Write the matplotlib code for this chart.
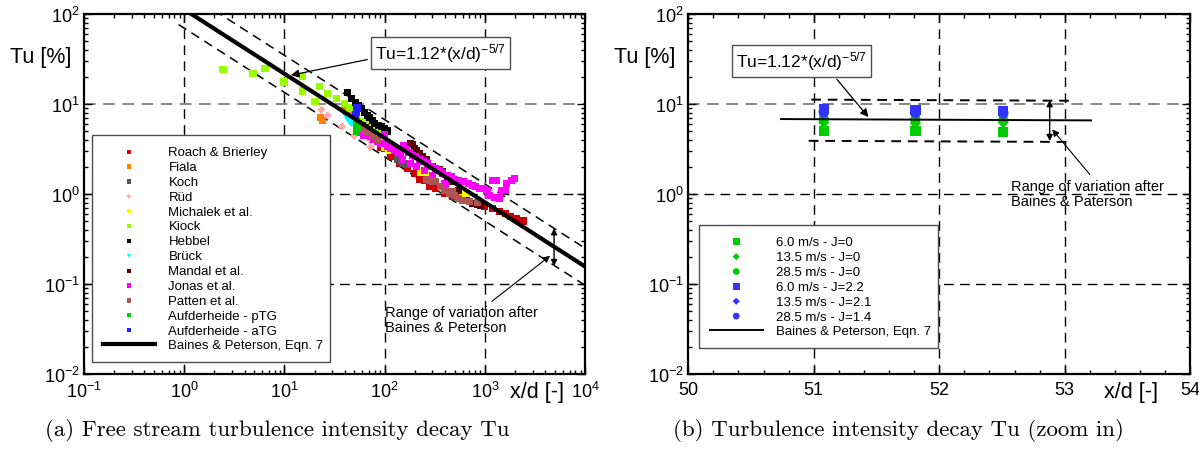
import numpy as np
import matplotlib
matplotlib.use('Agg')
import matplotlib.pyplot as plt
from matplotlib import font_manager
from matplotlib.ticker import LogLocator, MultipleLocator, NullFormatter

names = {f.name for f in font_manager.fontManager.ttflist}
sans = 'Liberation Sans Narrow' if 'Liberation Sans Narrow' in names else 'Liberation Sans'
plt.rcParams['font.family'] = [sans, 'Liberation Sans', 'DejaVu Sans']
plt.rcParams['mathtext.fontset'] = 'custom'
plt.rcParams['mathtext.rm'] = 'Liberation Sans'
plt.rcParams['mathtext.it'] = 'Liberation Sans'
plt.rcParams['mathtext.bf'] = 'Liberation Sans'

# --- data, panel (a) ---
roach_x = [90, 100, 115, 140, 170, 200, 225, 250, 280, 320, 400, 480, 580, 700, 850, 1000, 1200, 1400, 1600, 1800, 2080, 2400]
roach_y = [3.3, 3.2, 2.6, 2.2, 1.9, 1.7, 1.45, 1.4, 1.2, 1.16, 1.0, 0.93, 0.9, 0.82, 0.76, 0.73, 0.68, 0.63, 0.6, 0.56, 0.53, 0.5]
fiala_x = [23, 24, 40, 42, 44]
fiala_y = [7.0, 6.6, 8.8, 8.2, 7.8]
koch_x = [55, 65, 75, 135, 145, 155, 165]
koch_y = [5.5, 4.9, 4.5, 2.4, 2.3, 2.2, 2.1]
rued_x = [23.4, 27, 37.5, 49.7, 72, 72, 80]
rued_y = [8.6, 7.4, 5.6, 4.4, 3.3, 3.9, 4.5]
michalek_x = [65, 72, 80, 90, 100, 110, 230, 260, 600, 650]
michalek_y = [5.0, 4.6, 4.1, 3.7, 3.3, 3.0, 1.75, 1.6, 0.95, 0.9]
kiock_x = [2.44, 4.86, 6.4, 9.9, 15, 15, 22.6, 20.2, 27, 33, 39.4, 45, 52, 60, 70, 80, 90]
kiock_y = [23.9, 21.5, 25, 17.5, 20, 13.9, 15.6, 10.5, 13, 11.6, 10, 9.0, 8.0, 6.3, 5.9, 5.6, 5.3]
hebbel_x = [43, 47, 51, 55, 59, 63, 67, 71, 75, 80, 87, 93, 100, 106]
hebbel_y = [13.4, 11.5, 10.3, 9.5, 8.8, 8.0, 7.4, 7.0, 6.5, 6.1, 5.8, 5.6, 5.3, 5.0]
brueck_x = [41, 43, 45, 47]
brueck_y = [7.2, 6.6, 6.2, 6.0]
mandal_x = [60, 65, 70, 180, 190, 200, 210, 220, 240, 260, 300, 350, 380, 420, 480, 550, 660, 760, 850, 900]
mandal_y = [5.8, 5.5, 5.2, 3.6, 3.5, 3.2, 3.0, 2.8, 2.6, 2.4, 2.0, 1.85, 1.75, 1.5, 1.36, 1.1, 0.84, 0.78, 0.76, 0.74]
jonas_x = [58, 62, 67, 72, 78, 85, 92, 100, 107, 115, 125, 135, 145, 155, 165, 175, 190, 205, 225, 245, 265, 290,
           320, 350, 380, 420, 460, 500, 550, 610, 680, 750, 800, 880, 960, 1050, 1180, 1300, 1480, 1650, 1860, 1990,
           1100, 1250, 1400, 1600, 150, 180, 210, 250, 300, 400]
jonas_y = [4.8, 4.5, 4.6, 4.3, 4.0, 3.8, 3.6, 4.6, 3.4, 3.2, 3.0, 2.9, 2.8, 3.4, 3.1, 2.9, 2.7, 2.6, 2.4, 2.3, 2.2, 2.0,
           1.9, 1.8, 1.7, 1.6, 1.55, 1.45, 1.4, 1.36, 1.3, 1.25, 1.2, 1.15, 1.14, 1.1, 1.4, 1.4, 1.08, 1.3, 1.4, 1.47,
           0.95, 0.92, 0.9, 1.1, 2.4, 2.2, 2.0, 1.8, 1.6, 1.3]
patten_x = [55, 61, 66, 76, 85, 260, 280, 300, 320, 360, 400, 440, 470, 500, 540, 600, 700, 850]
patten_y = [6.0, 5.3, 5.0, 4.4, 4.0, 1.45, 1.4, 1.36, 1.38, 1.2, 1.1, 1.0, 1.05, 0.95, 0.88, 0.85, 0.82, 0.8]
ptg_x = [52, 52, 52, 52, 54, 54]
ptg_y = [5.0, 5.5, 6.0, 6.5, 5.3, 5.9]
atg_x = [51, 52, 53, 52]
atg_y = [7.6, 8.3, 9.0, 8.0]

series_a = [
    ('Roach & Brierley', roach_x, roach_y, 's', '#cc0000'),
    ('Fiala', fiala_x, fiala_y, 's', '#ff7f00'),
    ('Koch', koch_x, koch_y, 's', '#555555'),
    ('Rüd', rued_x, rued_y, 'D', '#ffaaaa'),
    ('Michalek et al.', michalek_x, michalek_y, 's', '#ffff00'),
    ('Kiock', kiock_x, kiock_y, 's', '#99ff00'),
    ('Hebbel', hebbel_x, hebbel_y, 's', '#000000'),
    ('Brück', brueck_x, brueck_y, 'v', '#00ffff'),
    ('Mandal et al.', mandal_x, mandal_y, 's', '#5a0000'),
    ('Jonas et al.', jonas_x, jonas_y, 's', '#ff00ff'),
    ('Patten et al.', patten_x, patten_y, 's', '#b05555'),
    ('Aufderheide - pTG', ptg_x, ptg_y, 's', '#00cc00'),
    ('Aufderheide - aTG', atg_x, atg_y, 's', '#2222ff'),
]

# --- data, panel (b) ---
xb = [51.08, 51.81, 52.51]
b_sq_j0 = [5.0, 5.0, 4.9]
b_di_j0 = [6.2, 6.1, 6.2]
b_ci_j0 = [6.8, 6.7, 6.6]
b_sq_j2 = [8.7, 8.6, 8.4]
b_di_j2 = [8.3, 8.2, 8.1]
b_ci_j1 = [8.0, 7.9, 7.8]

series_b = [
    ('6.0 m/s - J=0', b_sq_j0, 's', '#00cc00'),
    ('13.5 m/s - J=0', b_di_j0, 'D', '#00cc00'),
    ('28.5 m/s - J=0', b_ci_j0, 'o', '#00cc00'),
    ('6.0 m/s - J=2.2', b_sq_j2, 's', '#3333ff'),
    ('13.5 m/s - J=2.1', b_di_j2, 'D', '#3333ff'),
    ('28.5 m/s - J=1.4', b_ci_j1, 'o', '#3333ff'),
]

# Baines & Peterson correlation and its band
coef, expo = 112.0, -5.0 / 7.0
band_a = (1.6, 0.62)
band_b = (1.65, 0.575)
fit_a_x = np.logspace(0, 4, 200)
upper_a_x = np.logspace(np.log10(2.0), 4, 200)
lower_a_x = np.logspace(np.log10(0.88), 4, 200)
fit_b_x = [50.74, 53.21]
upper_b_x = [50.98, 53.05]
lower_b_x = [50.96, 53.03]

fig = plt.figure(figsize=(11.99, 4.64), dpi=100)
axa = fig.add_axes([0.070, 0.192, 0.418, 0.776])
axb = fig.add_axes([0.574, 0.192, 0.4187, 0.776])

dash = (0, (7, 4.5))
tick_fs = 13
leg_fs = 9.5
txt_fs = 10.5


def style_axes(ax):
    for s in ax.spines.values():
        s.set_linewidth(1.6)
    ax.tick_params(which='both', direction='in', top=True, right=True, width=1.0)
    ax.tick_params(which='major', length=6, labelsize=tick_fs)
    ax.tick_params(which='minor', length=3)
    ax.tick_params(axis='x', pad=5)
    ax.tick_params(axis='y', pad=3)
    ax.set_yscale('log')
    ax.set_ylim(1e-2, 1e2)
    ax.yaxis.set_major_locator(LogLocator(base=10, numticks=10))
    ax.yaxis.set_minor_locator(LogLocator(base=10, subs=np.arange(2, 10), numticks=10))
    ax.yaxis.set_minor_formatter(NullFormatter())


def draw_grid(ax, xs):
    for xv in xs:
        ax.axvline(xv, color='k', lw=1.0, ls=dash, zorder=1)
    ax.axhline(10, color='0.45', lw=1.2, ls=dash, zorder=1)
    ax.axhline(1, color='k', lw=1.0, ls=dash, zorder=1)
    ax.axhline(0.1, color='k', lw=1.0, ls=dash, zorder=1)


# ---------- panel (a) ----------
style_axes(axa)
axa.set_xscale('log')
axa.set_xlim(1e-1, 1e4)
axa.xaxis.set_major_locator(LogLocator(base=10, numticks=10))
axa.xaxis.set_minor_locator(LogLocator(base=10, subs=np.arange(2, 10), numticks=10))
axa.xaxis.set_minor_formatter(NullFormatter())
draw_grid(axa, [1, 10, 100, 1000])

fit_a = coef * fit_a_x ** expo
axa.plot(upper_a_x, band_a[0] * coef * upper_a_x ** expo, color='k', lw=1.1, ls=(0, (6, 4)), zorder=2)
axa.plot(lower_a_x, band_a[1] * coef * lower_a_x ** expo, color='k', lw=1.1, ls=(0, (6, 4)), zorder=2)

for label, xs, ys, m, c in series_a:
    ms = 26 if m != 'D' else 18
    axa.scatter(xs, ys, s=ms, marker=m, color=c, edgecolors='none', label=label, zorder=3)
axa.plot(fit_a_x, fit_a, color='k', lw=3.0, label='Baines & Peterson, Eqn. 7', zorder=4)

leg = axa.legend(loc='lower left', bbox_to_anchor=(0.016, 0.033, 0.475, 0.656), mode='expand',
                 fontsize=leg_fs, frameon=True, fancybox=False, framealpha=1, edgecolor='0.3',
                 handlelength=4.0, handletextpad=1.0, labelspacing=0.2, borderpad=0.8,
                 markerscale=0.6, borderaxespad=0)
leg.get_frame().set_linewidth(1.0)
leg.set_zorder(6)

axa.annotate('Tu=1.12*(x/d)$^{-5/7}$', xy=(10.9, 20.5), xytext=(80, 37), ha='left', va='center',
             fontsize=12.5, zorder=7,
             bbox=dict(boxstyle='square,pad=0.25', fc='white', ec='0.3', lw=1.0),
             arrowprops=dict(arrowstyle='-|>', color='k', lw=0.9, mutation_scale=12, relpos=(0, 0.27)))
axa.annotate('', xy=(4900, 0.415), xytext=(4900, 0.158),
             arrowprops=dict(arrowstyle='<|-|>', color='k', lw=1.0, mutation_scale=9, shrinkA=0, shrinkB=0))
axa.annotate('', xy=(4470, 0.205), xytext=(1175, 0.064),
             arrowprops=dict(arrowstyle='-|>', color='k', lw=0.8, mutation_scale=10, shrinkA=0, shrinkB=0))
axa.text(101, 0.058, 'Range of variation after\nBaines & Peterson', ha='left', va='top',
         fontsize=txt_fs, linespacing=1.05)

# ---------- panel (b) ----------
style_axes(axb)
axb.set_xlim(50, 54)
axb.xaxis.set_major_locator(MultipleLocator(1))
axb.xaxis.set_minor_locator(MultipleLocator(0.2))
draw_grid(axb, [51, 52, 53])

axb.plot(upper_b_x, [band_b[0] * coef * v ** expo for v in upper_b_x], color='k', lw=1.4, ls=(0, (5, 3.5)), zorder=2)
axb.plot(lower_b_x, [band_b[1] * coef * v ** expo for v in lower_b_x], color='k', lw=1.4, ls=(0, (5, 3.5)), zorder=2)

for label, ys, m, c in series_b:
    ms = 55 if m != 'D' else 32
    axb.scatter(xb, ys, s=ms, marker=m, color=c, edgecolors='none', label=label, zorder=3)
axb.plot(fit_b_x, [coef * v ** expo for v in fit_b_x], color='k', lw=1.4,
         label='Baines & Peterson, Eqn. 7', zorder=4)

legb = axb.legend(loc='lower left', bbox_to_anchor=(0.022, 0.072, 0.476, 0.36), mode='expand',
                  fontsize=leg_fs, frameon=True, fancybox=False, framealpha=1, edgecolor='0.3',
                  handlelength=4.0, handletextpad=1.0, labelspacing=0.2, borderpad=0.8,
                  markerscale=0.65, borderaxespad=0)
legb.get_frame().set_linewidth(1.0)
legb.set_zorder(6)

axb.annotate('Tu=1.12*(x/d)$^{-5/7}$', xy=(51.45, 6.75), xytext=(50.38, 30), ha='left', va='center',
             fontsize=12.5, zorder=7,
             bbox=dict(boxstyle='square,pad=0.25', fc='white', ec='0.3', lw=1.0),
             arrowprops=dict(arrowstyle='-|>', color='k', lw=0.9, mutation_scale=12, relpos=(0.73, 0)))
axb.annotate('', xy=(52.88, 11.0), xytext=(52.88, 3.87),
             arrowprops=dict(arrowstyle='<|-|>', color='k', lw=1.0, mutation_scale=9, shrinkA=0, shrinkB=0))
axb.annotate('', xy=(52.9, 5.2), xytext=(53.2, 1.64),
             arrowprops=dict(arrowstyle='-|>', color='k', lw=0.8, mutation_scale=10, shrinkA=0, shrinkB=0))
axb.text(52.57, 1.45, 'Range of variation after\nBaines & Paterson', ha='left', va='top',
         fontsize=txt_fs, linespacing=1.05)

# axis labels placed like the original (top-left / bottom-right)
fig.text(0.034, 0.875, 'Tu [%]', ha='center', va='center', fontsize=15.5, family='Liberation Sans')
fig.text(0.538, 0.875, 'Tu [%]', ha='center', va='center', fontsize=15.5, family='Liberation Sans')
fig.text(0.448, 0.155, 'x/d [-]', ha='center', va='center', fontsize=15.5, family='Liberation Sans')
fig.text(0.943, 0.155, 'x/d [-]', ha='center', va='center', fontsize=15.5, family='Liberation Sans')

# captions
fig.text(0.231, 0.073, '(a) Free stream turbulence intensity decay Tu', ha='center', va='center',
         fontsize=16.5, family='cmr10')
fig.text(0.749, 0.073, '(b) Turbulence intensity decay Tu (zoom in)', ha='center', va='center',
         fontsize=16.5, family='cmr10')

fig.savefig('out.png', dpi=100)
